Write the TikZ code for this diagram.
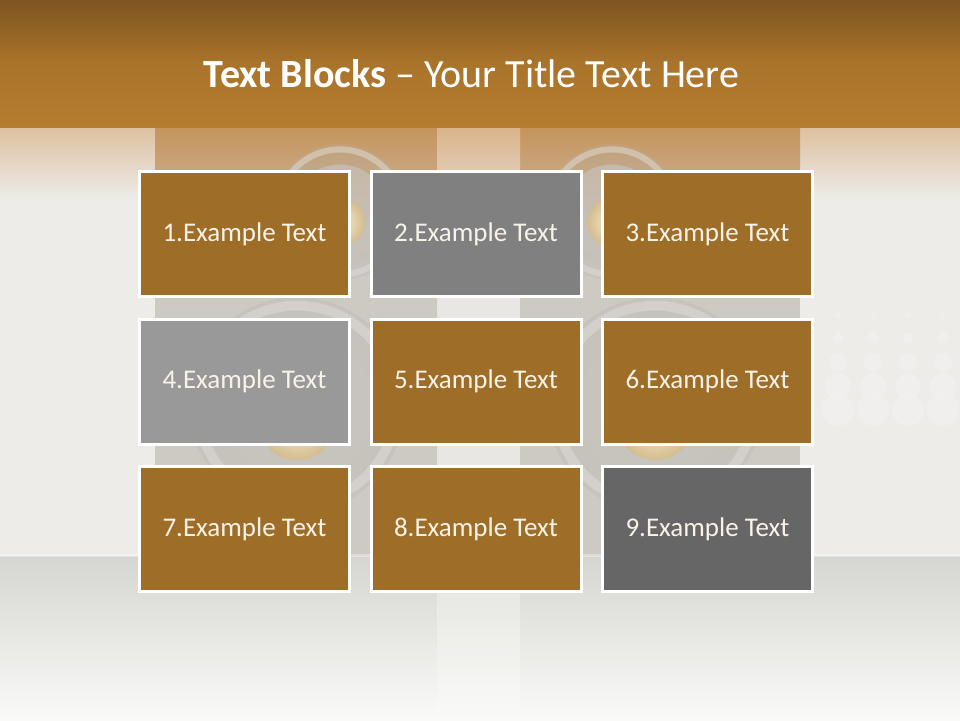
\documentclass[tikz,border=0pt]{standalone}
\usepackage{fontspec}
\setmainfont{Carlito}
\definecolor{bandtop}{RGB}{126,84,32}
\definecolor{bandmid}{RGB}{170,116,43}
\definecolor{bandbot}{RGB}{180,124,46}
\definecolor{bgl}{RGB}{237,236,233}
\definecolor{sidetan}{RGB}{222,192,160}
\definecolor{coltan}{RGB}{198,148,92}
\definecolor{colgray}{RGB}{205,202,196}
\definecolor{gaptan}{RGB}{218,180,138}
\definecolor{gapc}{RGB}{233,231,227}
\definecolor{floortop}{RGB}{213,214,209}
\definecolor{floorbot}{RGB}{250,250,248}
\definecolor{floorgap}{RGB}{226,226,222}
\definecolor{spkring}{RGB}{224,222,217}
\definecolor{spkdark}{RGB}{180,177,171}
\definecolor{spkcone}{RGB}{200,197,191}
\definecolor{capin}{RGB}{255,246,215}
\definecolor{capout}{RGB}{214,188,138}
\definecolor{dotc}{RGB}{242,242,240}
\definecolor{brownbox}{RGB}{158,109,40}
\definecolor{graytwo}{RGB}{128,128,128}
\definecolor{grayfour}{RGB}{153,153,153}
\definecolor{graynine}{RGB}{102,102,102}
\definecolor{boxtext}{RGB}{247,243,232}
\tikzset{
  tblock/.style={draw=white, line width=3pt, minimum width=210pt,
    minimum height=125pt, inner sep=0pt, text=boxtext,
    font=\fontsize{27}{32}\selectfont},
}
\begin{document}
\begin{tikzpicture}[x=1pt,y=-1pt]
\useasboundingbox (0,0) rectangle (960,720);
% base background
\fill[bgl] (0,0) rectangle (960,720);
% side fades under band
\shade[top color=sidetan, bottom color=bgl] (0,127) rectangle (155,200);
\shade[top color=sidetan, bottom color=bgl] (800,127) rectangle (960,200);
% columns
\fill[colgray] (155,127) rectangle (437,556);
\fill[colgray] (520,127) rectangle (800,556);
\shade[top color=coltan, bottom color=colgray] (155,127) rectangle (437,265);
\shade[top color=coltan, bottom color=colgray] (520,127) rectangle (800,265);
% gap between columns
\fill[gapc] (437,127) rectangle (520,556);
\shade[top color=gaptan, bottom color=gapc] (437,127) rectangle (520,230);
% speakers
\begin{scope}
\clip (155,127) rectangle (437,556) (520,127) rectangle (800,556);
\foreach \cx/\cy/\r in {340/212/68, 612/212/68, 297/405/108, 655/405/108}{
  \pgfmathsetmacro\rr{\r}
  \pgfmathsetmacro\ringr{0.92*\r}
  \pgfmathsetmacro\ringw{0.09*\r}
  \pgfmathsetmacro\coner{0.7*\r}
  \pgfmathsetmacro\capr{0.36*\r}
  \fill[spkdark, opacity=0.25] (\cx,\cy) circle[radius=\rr pt];
  \draw[spkring, opacity=0.5, line width=\ringw pt] (\cx,\cy) circle[radius=\ringr pt];
  \fill[spkcone, opacity=0.6] (\cx,\cy) circle[radius=\coner pt];
  \shade[inner color=capin, outer color=capout, opacity=0.9] (\cx,\cy+0.15*\r) circle[radius=\capr pt];
}
\end{scope}
% floor
\shade[top color=floortop, bottom color=floorbot] (0,556) rectangle (960,720);
\shade[top color=floorgap, bottom color=floorbot] (437,556) rectangle (520,720);
\fill[white, opacity=0.35] (0,554) rectangle (960,557);
% halftone dots on the right
\foreach \yy/\rd in {315/2.5, 338/5.5, 362/9, 386/13, 410/16}{
  \foreach \xx in {838,873,908,943}{
    \fill[dotc, opacity=0.6] (\xx,\yy) circle[radius=\rd pt];
  }
}
% title band
\shade[top color=bandtop, bottom color=bandbot, middle color=bandmid] (0,0) rectangle (960,127);
\node[anchor=base, text=white, font=\fontsize{40}{48}\selectfont, inner sep=0pt]
  (title) at (471.5,87) {\textbf{Text Blocks} – Your Title Text Here};
% blocks
\node[tblock, fill=brownbox] (b1) at (244.5,234) {1.Example Text};
\node[tblock, fill=graytwo]  (b2) at (476,234)   {2.Example Text};
\node[tblock, fill=brownbox] (b3) at (707.5,234) {3.Example Text};
\node[tblock, fill=grayfour] (b4) at (244.5,381.5) {4.Example Text};
\node[tblock, fill=brownbox] (b5) at (476,381.5)   {5.Example Text};
\node[tblock, fill=brownbox] (b6) at (707.5,381.5) {6.Example Text};
\node[tblock, fill=brownbox] (b7) at (244.5,529) {7.Example Text};
\node[tblock, fill=brownbox] (b8) at (476,529)   {8.Example Text};
\node[tblock, fill=graynine] (b9) at (707.5,529) {9.Example Text};
\end{tikzpicture}
\end{document}
